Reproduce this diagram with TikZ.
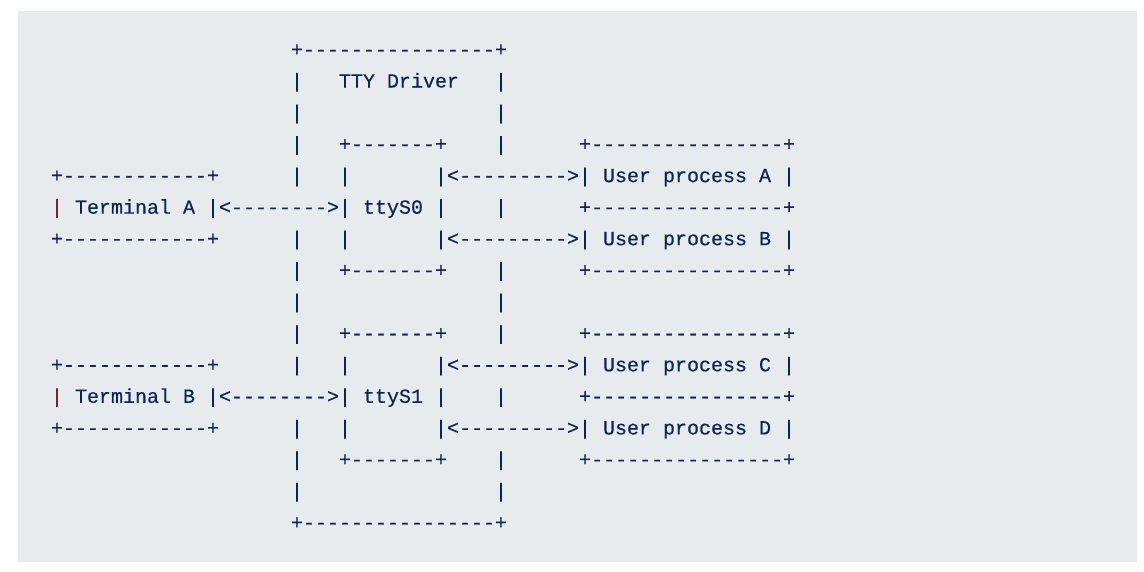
\documentclass[tikz,border=0pt]{standalone}
\usepackage{fontspec}
\setmonofont[FakeBold=0.35]{Liberation Mono}
\definecolor{codebg}{RGB}{232,235,238}
\definecolor{codefg}{RGB}{10,38,88}
\definecolor{pipered}{RGB}{125,35,35}
\newlength\cw
\setlength\cw{12pt}
\newcommand\gap[1]{\hspace*{#1\cw}}
\newcommand\rp{\textcolor{pipered}{|}}
\begin{document}
\begin{tikzpicture}[x=1pt,y=-1pt,
  codeline/.style={anchor=base west,inner sep=0pt,outer sep=0pt,
    font=\ttfamily\fontsize{20}{20}\selectfont,text=codefg}]
\useasboundingbox (0,0) rectangle (1144,571);
\fill[codebg] (18,11) rectangle (1137,562);
\def\lx{51}
\node[codeline] (l0)  at (\lx,56.0)  {\gap{20}+----------------+};
\node[codeline] (l1)  at (\lx,87.5)  {\gap{20}|\gap{3}TTY Driver\gap{3}|};
\node[codeline] (l2)  at (\lx,119.1) {\gap{20}|\gap{16}|};
\node[codeline] (l3)  at (\lx,150.6) {\gap{20}|\gap{3}+-------+\gap{4}|\gap{6}+----------------+};
\node[codeline] (l4)  at (\lx,182.1) {+------------+\gap{6}|\gap{3}|\gap{7}|<--------->|\gap{1}User process A\gap{1}|};
\node[codeline] (l5)  at (\lx,213.7) {\rp\gap{1}Terminal A\gap{1}|<-------->|\gap{1}ttyS0\gap{1}|\gap{4}|\gap{6}+----------------+};
\node[codeline] (l6)  at (\lx,245.2) {+------------+\gap{6}|\gap{3}|\gap{7}|<--------->|\gap{1}User process B\gap{1}|};
\node[codeline] (l7)  at (\lx,276.7) {\gap{20}|\gap{3}+-------+\gap{4}|\gap{6}+----------------+};
\node[codeline] (l8)  at (\lx,308.2) {\gap{20}|\gap{16}|};
\node[codeline] (l9)  at (\lx,339.8) {\gap{20}|\gap{3}+-------+\gap{4}|\gap{6}+----------------+};
\node[codeline] (l10) at (\lx,371.3) {+------------+\gap{6}|\gap{3}|\gap{7}|<--------->|\gap{1}User process C\gap{1}|};
\node[codeline] (l11) at (\lx,402.8) {\rp\gap{1}Terminal B\gap{1}|<-------->|\gap{1}ttyS1\gap{1}|\gap{4}|\gap{6}+----------------+};
\node[codeline] (l12) at (\lx,434.4) {+------------+\gap{6}|\gap{3}|\gap{7}|<--------->|\gap{1}User process D\gap{1}|};
\node[codeline] (l13) at (\lx,465.9) {\gap{20}|\gap{3}+-------+\gap{4}|\gap{6}+----------------+};
\node[codeline] (l14) at (\lx,497.4) {\gap{20}|\gap{16}|};
\node[codeline] (l15) at (\lx,529.0) {\gap{20}+----------------+};
\end{tikzpicture}
\end{document}
